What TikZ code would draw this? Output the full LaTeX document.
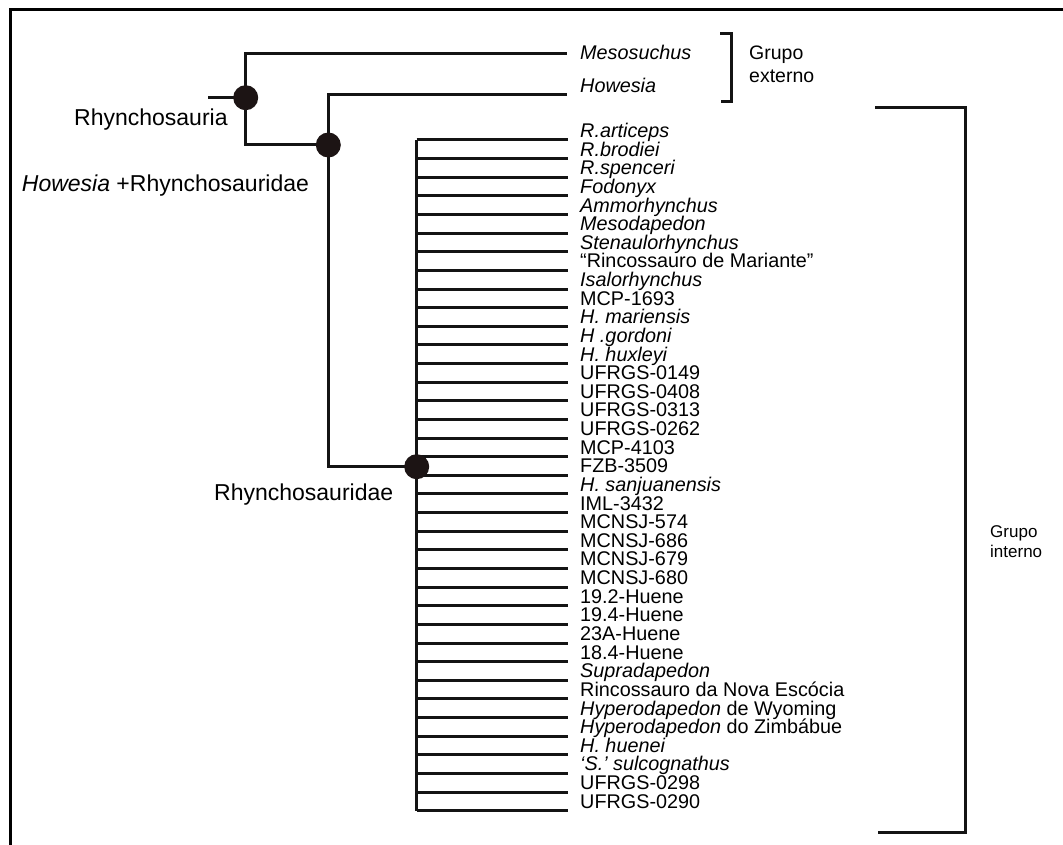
\documentclass[tikz,border=0pt]{standalone}
\usepackage{fontspec}
\setmainfont{Liberation Sans}
\definecolor{nodefill}{RGB}{28,20,20}
\definecolor{inkline}{RGB}{20,20,20}
\begin{document}
\begin{tikzpicture}[x=1pt,y=-1pt,
  branch/.style={line width=3pt, draw=inkline, line join=miter},
  dot/.style={circle, fill=nodefill, inner sep=0pt, minimum size=25pt},
  taxon/.style={anchor=base west, inner sep=0pt, font=\fontsize{19.8}{20}\selectfont},
  clade/.style={anchor=base west, inner sep=0pt, font=\fontsize{23}{26}\selectfont},
  grp/.style={anchor=base west, inner sep=0pt, font=\fontsize{17}{20}\selectfont},
  grpo/.style={anchor=base west, inner sep=0pt, font=\fontsize{19.5}{22}\selectfont},
  bracket/.style={line width=3pt, draw=inkline, line join=miter},
  frame/.style={line width=3pt, draw=black}]
\useasboundingbox (0,0) rectangle (1063,845);
\fill[white] (0,0) rectangle (1063,845);
% frame (top and left only)
\draw[frame] (10.5,845) -- (10.5,9.5) -- (1063,9.5);

% internal nodes
\coordinate (root) at (208,97.7);
\coordinate (eMeso) at (566.7,53.3);
\coordinate (eHow) at (566.7,94.7);
\coordinate (n1) at (245.7,97.7);
\coordinate (n2) at (328.3,145);
\coordinate (n3) at (416.7,466.7);

% taxa of the ingroup
\foreach \name [count=\i] in {
  {\textit{R.articeps}},{\textit{R.brodiei}},{\textit{R.spenceri}},{\textit{Fodonyx}},
  {\textit{Ammorhynchus}},{\textit{Mesodapedon}},{\textit{Stenaulorhynchus}},
  {“Rincossauro de Mariante”},{\textit{Isalorhynchus}},{MCP-1693},
  {\textit{H. mariensis}},{\textit{H .gordoni}},{\textit{H. huxleyi}},
  {UFRGS-0149},{UFRGS-0408},{UFRGS-0313},{UFRGS-0262},{MCP-4103},{FZB-3509},
  {\textit{H. sanjuanensis}},{IML-3432},{MCNSJ-574},{MCNSJ-686},{MCNSJ-679},
  {MCNSJ-680},{19.2-Huene},{19.4-Huene},{23A-Huene},{18.4-Huene},
  {\textit{Supradapedon}},{Rincossauro da Nova Escócia},
  {\textit{Hyperodapedon} de Wyoming},{\textit{Hyperodapedon} do Zimbábue},
  {\textit{H. huenei}},{\textit{‘S.’ sulcognathus}},{UFRGS-0298},{UFRGS-0290}} {
  \pgfmathsetmacro\yy{140+(\i-1)*18.63}
  \coordinate (e\i) at (568,\yy);
  \node[taxon] (t\i) at (580,\yy-2.5) {\name};
  \draw[branch] (n3 |- e\i) -- (e\i);
}
\draw[branch] (n3 |- e1) -- (n3 |- e37);

% outgroup branches
\draw[branch] (root) -- (n1);
\draw[branch] (eMeso) -| (n1) |- (n2);
\draw[branch] (eHow) -| (n2) |- (n3);

\node[taxon] (meso) at (580,60) {\textit{Mesosuchus}};
\node[taxon] (how) at (580,92.3) {\textit{Howesia}};

% node dots
\node[dot] (d1) at (n1) {};
\node[dot] (d2) at (n2) {};
\node[dot] (d3) at (n3) {};

% clade labels
\node[clade] (lRs) at (74,126) {Rhynchosauria};
\node[clade] (lHR) at (21.7,191.7) {\textit{Howesia} +Rhynchosauridae};
\node[clade] (lRd) at (214,500) {Rhynchosauridae};

% brackets
\coordinate (bo1) at (720,33.3);
\coordinate (bo2) at (720.7,101.7);
\draw[bracket] (bo1) -- ++(11.7,0) |- (bo2);
\node[grpo] (ge1) at (749,60) {Grupo};
\node[grpo] (ge2) at (749,83) {externo};

\coordinate (bi1) at (875,108);
\coordinate (bi2) at (878,832);
\draw[bracket] (bi1) -- ++(90.7,0) |- (bi2);
\node[grp] (gi1) at (990,537) {Grupo};
\node[grp] (gi2) at (990,557) {interno};
\end{tikzpicture}
\end{document}
